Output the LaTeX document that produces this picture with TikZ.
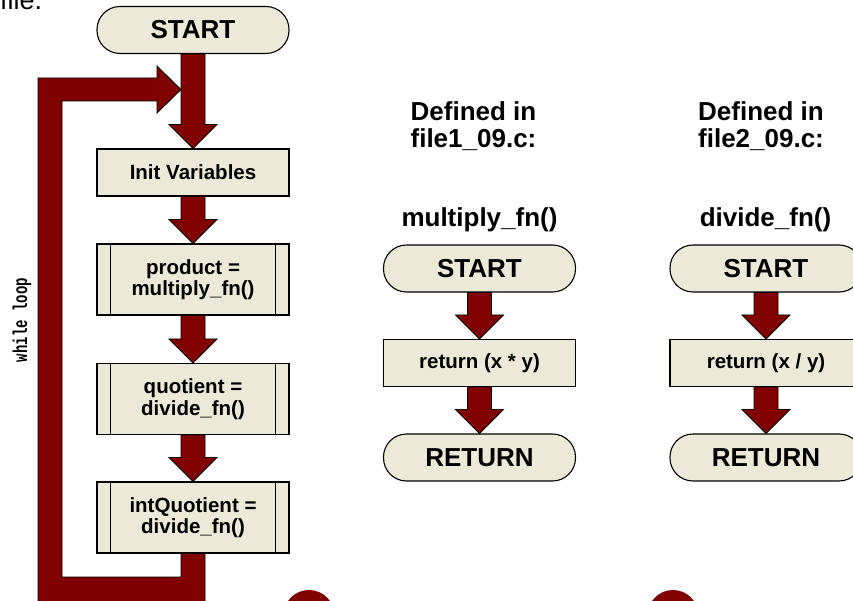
\documentclass[tikz,border=0pt]{standalone}
\usepackage{fontspec}
\setmainfont{Liberation Sans}
\newfontfamily\codefont{Liberation Mono}
\usetikzlibrary{calc}

\definecolor{flowred}{RGB}{128,0,0}
\definecolor{boxfill}{RGB}{236,233,216}

\tikzset{
  bigtext/.style={font=\fontsize{26}{27}\selectfont\bfseries},
  smalltext/.style={font=\fontsize{20.5}{21.5}\selectfont\bfseries},
  terminal/.style={draw=black, line width=1.1pt, fill=boxfill,
    rounded corners=23pt, minimum width=192pt, minimum height=47pt,
    inner sep=0pt, bigtext},
  procbox/.style={draw=black, line width=1.1pt, fill=boxfill,
    minimum width=192pt, minimum height=47pt, inner sep=0pt,
    align=center, smalltext},
  predef/.style={procbox, minimum height=71pt,
    path picture={
      \draw[line width=1.1pt]
        ([xshift=13.5pt]path picture bounding box.north west) --
        ([xshift=13.5pt]path picture bounding box.south west)
        ([xshift=-13.5pt]path picture bounding box.north east) --
        ([xshift=-13.5pt]path picture bounding box.south east);}},
  blockarrow/.style={fill=flowred, draw=black, line width=0.8pt,
    line join=miter},
  heading/.style={align=center, inner sep=0pt,
    font=\fontsize{26}{27}\selectfont\bfseries},
  badge/.style={circle, fill=flowred, minimum size=51pt, inner sep=0pt}
}

% thick downward block arrow from the bottom of #1 to the top of #2
\newcommand\flowarrow[2]{%
  \draw[blockarrow]
    ([xshift=-12pt]#1.south) --
    ([xshift=-12pt,yshift=24pt]#2.north) --
    ([xshift=-24pt,yshift=24pt]#2.north) --
    (#2.north) --
    ([xshift=24pt,yshift=24pt]#2.north) --
    ([xshift=12pt,yshift=24pt]#2.north) --
    ([xshift=12pt]#1.south) -- cycle;}

\begin{document}
\begin{tikzpicture}[x=1pt,y=-1pt]
\useasboundingbox (0,0) rectangle (853,601);
\clip (0,0) rectangle (853,601);

% stray text at the top edge
\node[anchor=base west, inner sep=0pt, font=\fontsize{27}{27}\selectfont]
  (frag) at (0,9.5) {file.};

% main program
\node[terminal]  (start1) at (193,30)    {START};
\node[procbox]   (init)   at (193,172.5) {Init Variables};
\node[predef]    (prod)   at (193,279.5) {product =\\multiply\_fn()};
\node[predef]    (quot)   at (193,399)   {quotient =\\divide\_fn()};
\node[predef]    (intq)   at (193,517.5) {intQuotient =\\divide\_fn()};
\coordinate (join) at (193,89.5);

% while loop back to the top
\draw[blockarrow]
  ([xshift=-12pt]intq.south) -- ([xshift=-12pt]intq.south |- 0,577) --
  (62,577) -- (62,101) -- (157,101) -- (157,113) --
  ([xshift=-12pt]join) --
  (157,66) -- (157,78) -- (38,78) -- (38,604) --
  ([xshift=12pt]intq.south |- 0,604) -- ([xshift=12pt]intq.south) -- cycle;
\node[rotate=90, inner sep=0pt, font=\codefont\bfseries\fontsize{20}{20}\selectfont]
  (looplabel) at (22,320) {\scalebox{0.7}[1]{while loop}};

\flowarrow{start1}{init}
\flowarrow{init}{prod}
\flowarrow{prod}{quot}
\flowarrow{quot}{intq}

% multiply_fn
\node[heading] (def1) at (473.5,126) {Defined in\\file1\_09.c:};
\node[heading, anchor=base] (name1) at (479.5,227) {multiply\_fn()};
\node[terminal] (start2) at (479.5,268.5) {START};
\node[procbox]  (body2)  at (479.5,363)   {return (x * y)};
\node[terminal] (end2)   at (479.5,457.5) {RETURN};
\flowarrow{start2}{body2}
\flowarrow{body2}{end2}

% divide_fn
\node[heading] (def2) at (761,126) {Defined in\\file2\_09.c:};
\node[heading, anchor=base] (name2) at (765.5,227) {divide\_fn()};
\node[terminal] (start3) at (766,268.5) {START};
\node[procbox]  (body3)  at (766,363)   {return (x / y)};
\node[terminal] (end3)   at (766,457.5) {RETURN};
\flowarrow{start3}{body3}
\flowarrow{body3}{end3}

% callout badges along the bottom edge
\node[badge] (badge1) at (309,615.5) {};
\node[badge] (badge2) at (673,615.5) {};
\end{tikzpicture}
\end{document}
